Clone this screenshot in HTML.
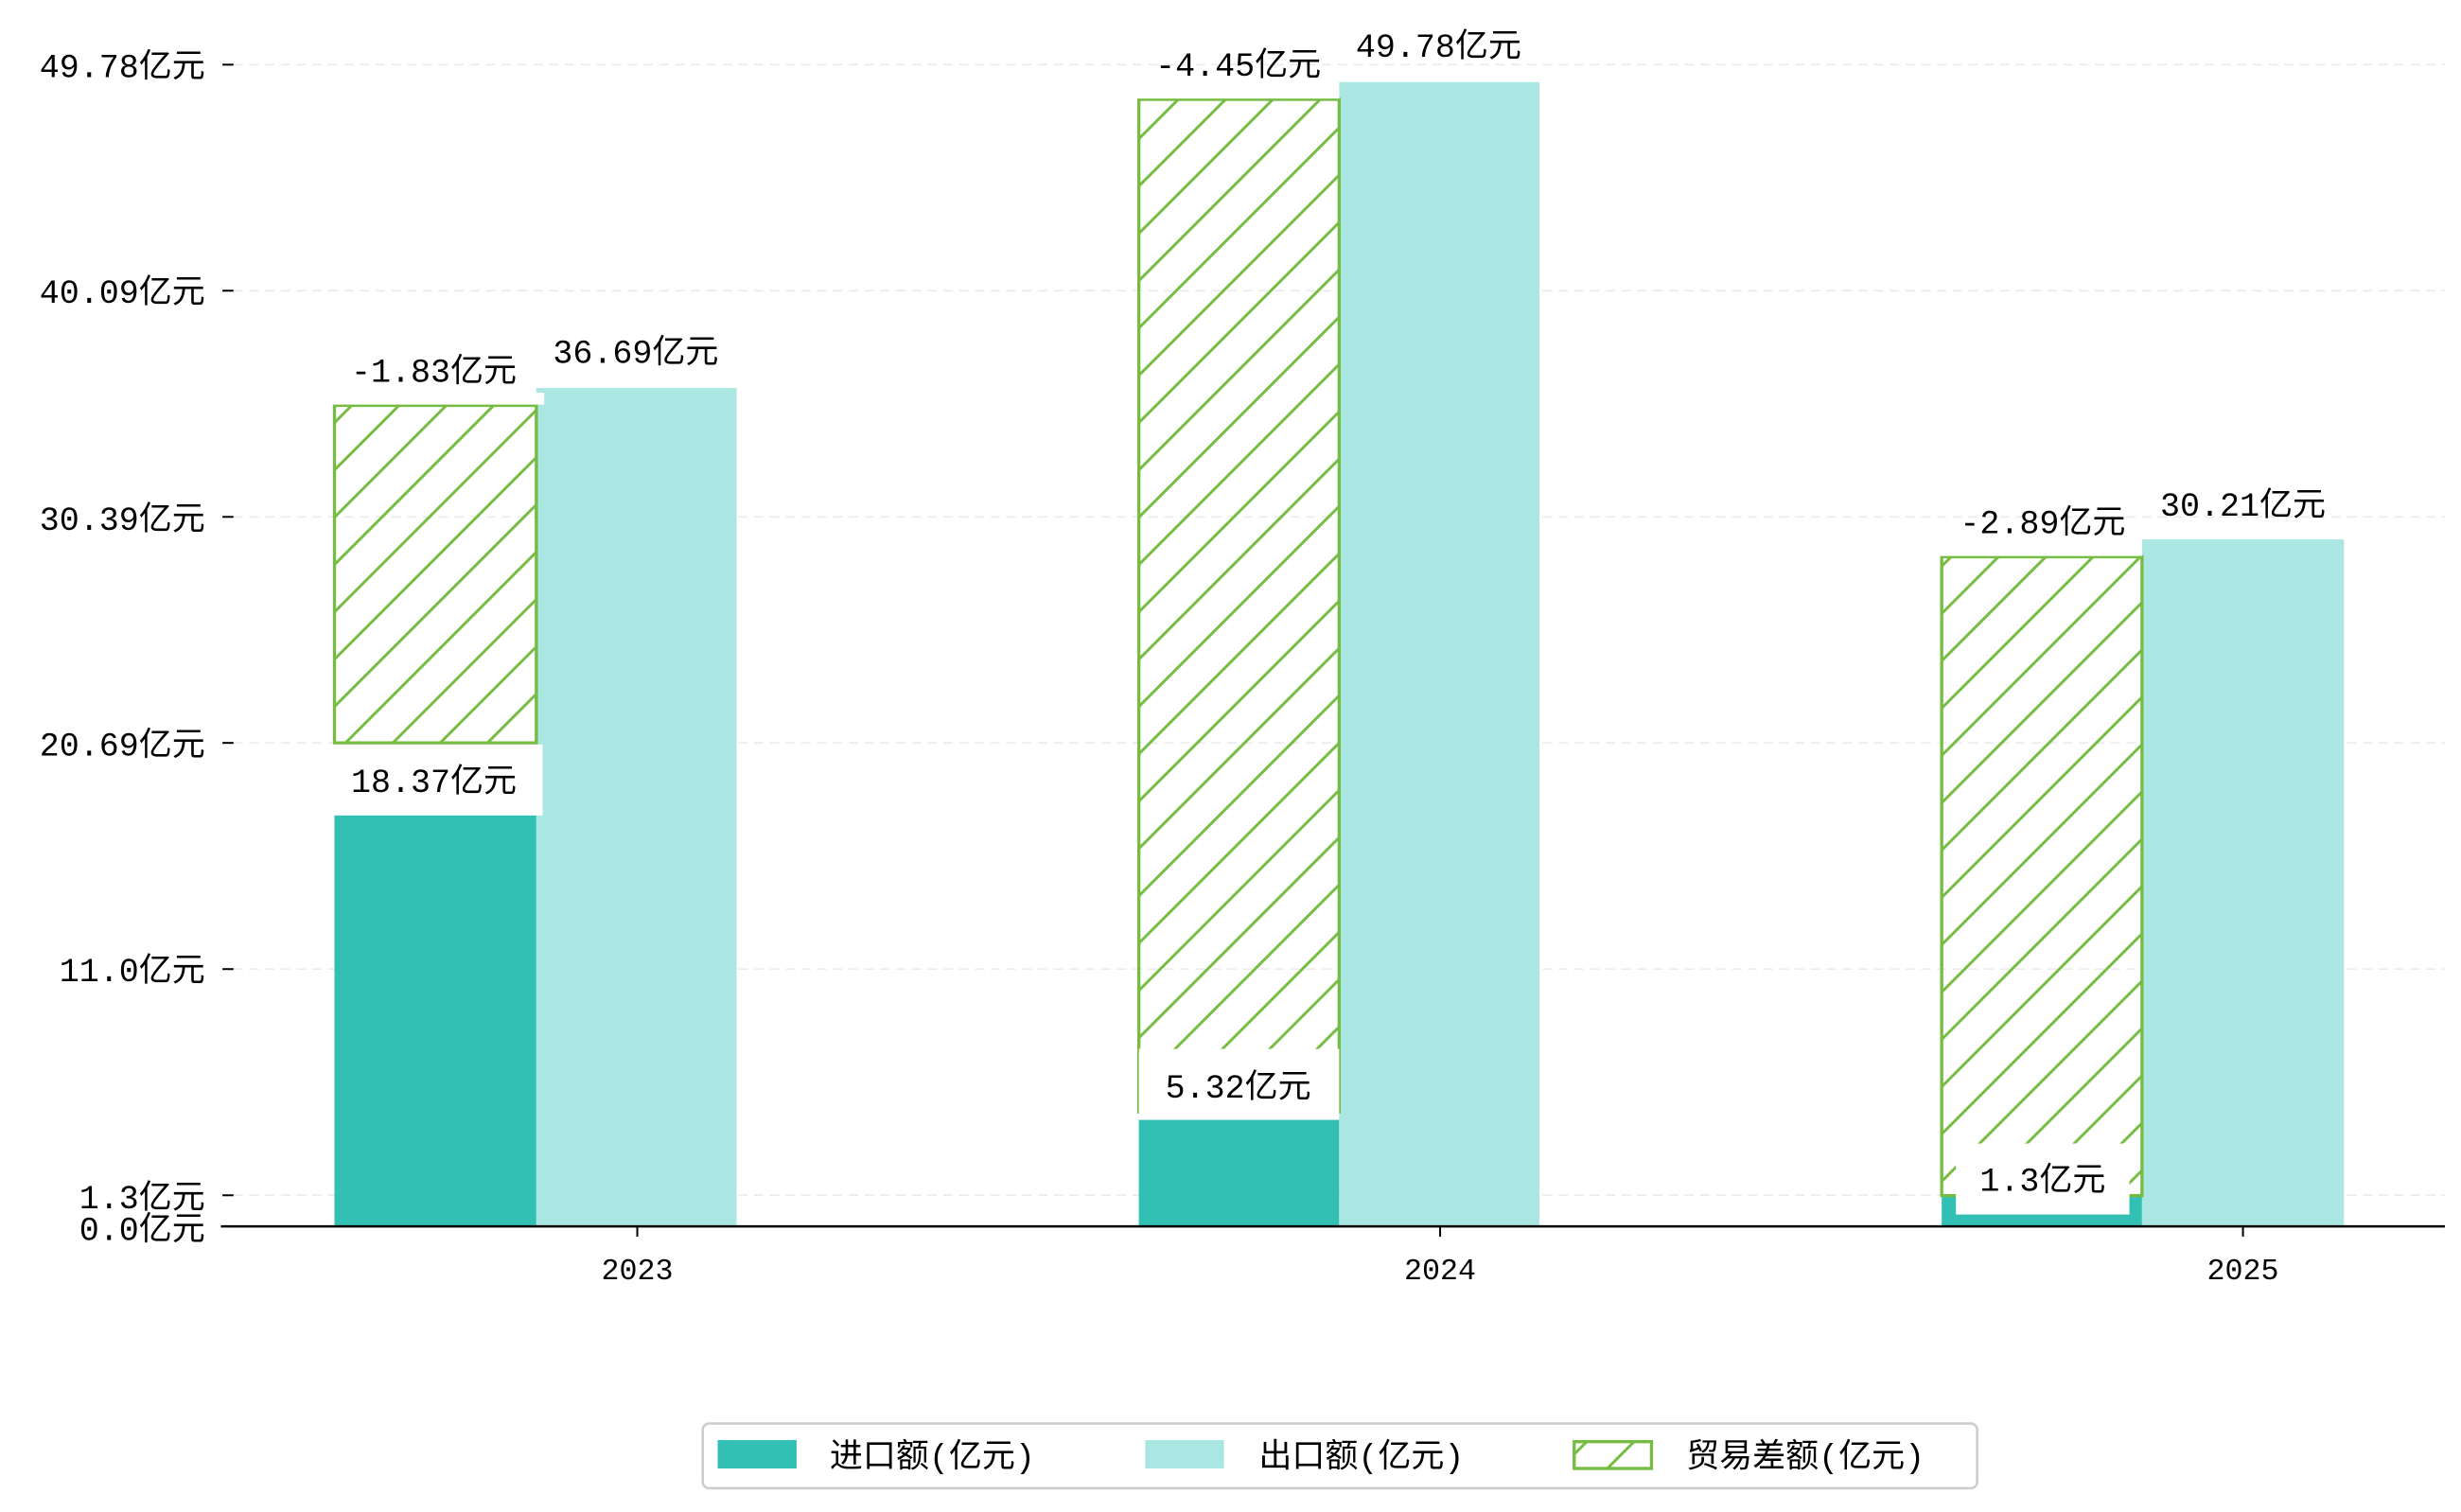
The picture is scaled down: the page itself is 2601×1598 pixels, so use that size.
<!DOCTYPE html>
<html><head><meta charset="utf-8"><style>
html,body{margin:0;padding:0;background:#fff;}
svg{display:block;font-family:"Liberation Mono","WenQuanYi Zen Hei","Noto Sans CJK SC",monospace;}
</style></head><body>
<svg width="2601" height="1598" viewBox="0 0 1560.2 958.6" xmlns="http://www.w3.org/2000/svg">
<defs>
<pattern id="h" patternUnits="userSpaceOnUse" width="30" height="30">
<path d="M-5,35 L35,-5 M-5,5 L5,-5 M25,35 L35,25" stroke="#76bc43" stroke-width="1.8"/>
</pattern>
</defs>
<rect width="1560.2" height="958.6" fill="#fff"/>
<g stroke="#ebebeb" stroke-width="1" stroke-dasharray="6,4">
<line x1="148" x2="1550" y1="41" y2="41"/>
<line x1="148" x2="1550" y1="184.3" y2="184.3"/>
<line x1="148" x2="1550" y1="327.7" y2="327.7"/>
<line x1="148" x2="1550" y1="471" y2="471"/>
<line x1="148" x2="1550" y1="614.4" y2="614.4"/>
<line x1="148" x2="1550" y1="757.8" y2="757.8"/>
</g>
<rect x="212" y="515" width="128" height="262" fill="#32c0b4"/>
<rect x="340" y="246" width="127" height="531" fill="#abe7e2"/>
<rect x="722" y="707" width="127" height="70" fill="#32c0b4"/>
<rect x="849" y="52" width="127" height="725" fill="#abe7e2"/>
<rect x="1231" y="758" width="127" height="19" fill="#32c0b4"/>
<rect x="1358" y="342" width="128" height="435" fill="#abe7e2"/>
<rect x="212" y="257" width="128" height="214" fill="url(#h)" stroke="#76bc43" stroke-width="2"/>
<rect x="722" y="63" width="127" height="642" fill="url(#h)" stroke="#76bc43" stroke-width="2"/>
<rect x="1231" y="353" width="127" height="405" fill="url(#h)" stroke="#76bc43" stroke-width="2"/>
<rect x="205" y="249" width="140" height="7.5" fill="#fff"/>
<rect x="715" y="55" width="134" height="7.5" fill="#fff"/>
<rect x="1224" y="345" width="134" height="7.5" fill="#fff"/>
<rect x="208" y="472" width="136" height="45" fill="#fff"/>
<rect x="722" y="665" width="127" height="45" fill="#fff"/>
<rect x="1240" y="725" width="110" height="45" fill="#fff"/>
<g font-size="21" fill="#000" text-anchor="middle">
<text x="275" y="242">-1.83亿元</text>
<text x="403" y="230">36.69亿元</text>
<text x="275" y="502">18.37亿元</text>
<text x="785" y="48">-4.45亿元</text>
<text x="912" y="36">49.78亿元</text>
<text x="785" y="696">5.32亿元</text>
<text x="1295" y="338">-2.89亿元</text>
<text x="1422" y="327">30.21亿元</text>
<text x="1295" y="755">1.3亿元</text>
</g>
<line x1="140" x2="1550" y1="777.5" y2="777.5" stroke="#000" stroke-width="1.5"/>
<g stroke="#000" stroke-width="1.2">
<line x1="141" x2="148" y1="41" y2="41"/>
<line x1="141" x2="148" y1="184.3" y2="184.3"/>
<line x1="141" x2="148" y1="327.7" y2="327.7"/>
<line x1="141" x2="148" y1="471" y2="471"/>
<line x1="141" x2="148" y1="614.4" y2="614.4"/>
<line x1="141" x2="148" y1="757.8" y2="757.8"/>
<line x1="404" x2="404" y1="778" y2="784"/>
<line x1="913" x2="913" y1="778" y2="784"/>
<line x1="1422" x2="1422" y1="778" y2="784"/>
</g>
<g font-size="21" fill="#000" text-anchor="end">
<text x="130" y="49">49.78亿元</text>
<text x="130" y="192">40.09亿元</text>
<text x="130" y="336">30.39亿元</text>
<text x="130" y="479">20.69亿元</text>
<text x="130" y="622">11.0亿元</text>
<text x="130" y="766">1.3亿元</text>
<text x="130" y="786">0.0亿元</text>
</g>
<g font-size="19" fill="#000" text-anchor="middle">
<text x="404" y="811">2023</text>
<text x="913" y="811">2024</text>
<text x="1422" y="811">2025</text>
</g>
<rect x="445.5" y="902.5" width="808" height="41" rx="4" fill="#fff" stroke="#cccccc" stroke-width="1.5"/>
<rect x="455" y="913" width="50" height="18" fill="#32c0b4"/>
<rect x="726" y="913" width="50" height="18" fill="#abe7e2"/>
<rect x="998" y="914" width="49" height="17" fill="url(#h)" stroke="#76bc43" stroke-width="2"/>
<g font-size="21" fill="#000">
<text x="526" y="930">进口额(亿元)</text>
<text x="798" y="930">出口额(亿元)</text>
<text x="1069" y="930">贸易差额(亿元)</text>
</g>
</svg>
</body></html>
